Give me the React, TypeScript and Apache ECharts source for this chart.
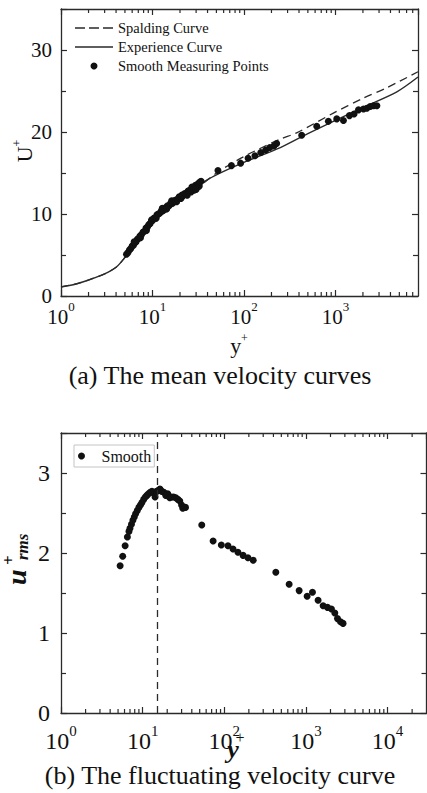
import React, { useEffect, useRef } from "react";
import * as echarts from "echarts";

const FONT = "Liberation Serif";
const INK = "#111111";
const AXIS = "#2a2a2a";

// ---------- (a) mean velocity ----------
const spaldingYPlus = [1, 1.5, 2, 3, 4, 5, 6, 7, 8, 10, 15, 20, 30, 50, 100, 245, 377, 950, 2000, 3650, 8000];
const spaldingU = [1.1, 1.5, 1.95, 2.7, 3.5, 4.7, 5.9, 6.9, 7.7, 9.0, 10.5, 11.6, 13.0, 15.0, 17.0, 19.1, 19.9, 22.3, 24.1, 25.4, 27.35];

const experienceYPlus = [1, 1.5, 2, 3, 4, 5, 6, 7, 8, 10, 15, 20, 30, 40, 60, 100, 250, 500, 950, 2000, 4700, 8000];
const experienceU = [1.1, 1.5, 1.95, 2.7, 3.5, 4.7, 5.9, 6.9, 7.7, 9.0, 10.6, 11.8, 13.3, 14.2, 15.2, 16.3, 18.1, 19.8, 21.3, 23.0, 24.9, 26.7];

const measYPlus = [
  5.2, 5.4, 5.6, 5.8, 6.0, 6.2, 6.4, 6.6, 6.8, 7.0, 7.3, 7.6, 7.9, 8.2, 8.5, 8.8, 9.1, 9.4, 9.7, 10.0,
  10.4, 10.8, 11.2, 11.6, 12.0, 12.5, 13.0, 13.5, 14.0, 14.6, 15.2, 15.8, 16.5, 17.2, 18.0, 18.8, 19.6,
  20.5, 21.5, 22.5, 23.5, 24.5, 25.5, 26.5, 27.5, 28.5, 29.5, 30.5, 31.5, 32.5, 34,
  6.3, 7.4, 8.6, 9.8, 11.0, 12.8, 14.3, 16.2, 18.4, 21.0, 24.0, 27.0, 30.0, 33.0,
  52, 73, 92, 111, 132, 153, 173, 192, 213, 228, 428, 625, 838, 1035, 1225, 1425, 1600, 1790, 2030, 2210, 2400, 2610, 2840,
];
const measU = [
  5.1, 5.3, 5.6, 5.8, 6.1, 6.2, 6.5, 6.6, 6.9, 7.0, 7.3, 7.5, 7.8, 7.9, 8.3, 8.4, 8.7, 8.8, 9.1, 9.2,
  9.5, 9.5, 9.9, 10.0, 10.1, 10.4, 10.4, 10.7, 10.8, 11.0, 11.0, 11.3, 11.3, 11.6, 11.7, 11.8, 12.1,
  11.9, 12.2, 12.5, 12.4, 12.8, 12.9, 12.7, 13.2, 12.9, 13.5, 13.2, 13.7, 13.4, 14.0,
  6.6, 7.1, 8.0, 9.3, 9.5, 10.7, 10.6, 11.6, 11.5, 12.3, 12.3, 13.3, 13.0, 13.9,
  15.3, 15.9, 16.2, 16.8, 17.1, 17.5, 17.8, 18.1, 18.3, 18.6, 19.6, 20.7, 21.3, 21.6, 21.4, 22.0, 22.2, 22.7, 22.8, 22.9, 23.1, 23.2, 23.2,
];

// ---------- (b) fluctuating velocity ----------
const rmsYPlus = [
  5.3, 5.7, 6.1, 6.5, 6.8, 7.0, 7.3, 7.6, 7.9, 8.2, 8.6, 9.0, 9.4, 9.8, 10.3, 10.8, 11.3, 11.8, 12.4, 13.0,
  13.6, 14.2, 14.8, 15.5, 16.3, 17.2, 18.2, 19.2, 20.3, 21.5, 22.6, 24.0, 25.5, 27.0, 28.5, 30, 31, 33.5,
  53, 73, 92, 111, 128, 147, 170, 195, 226, 428, 623, 826, 1035, 1203, 1410, 1626, 1837, 2056, 2260, 2437, 2654, 2850,
];
const rmsU = [
  1.84, 1.96, 2.09, 2.2, 2.27, 2.31, 2.36, 2.41, 2.45, 2.49, 2.53, 2.57, 2.6, 2.63, 2.67, 2.7, 2.72, 2.74, 2.76, 2.77,
  2.75, 2.7, 2.77, 2.78, 2.8, 2.77, 2.76, 2.72, 2.74, 2.69, 2.7, 2.7, 2.69, 2.67, 2.65, 2.6, 2.56, 2.57,
  2.35, 2.15, 2.1, 2.09, 2.05, 2.01, 1.97, 1.94, 1.91, 1.76, 1.61, 1.53, 1.46, 1.51, 1.41, 1.34, 1.32, 1.3, 1.25, 1.18, 1.14, 1.12,
];
const peakYPlus = 15.2;

// axis ranges
const aXMax = 8000;
const aYMax = 35;
const bXMax = 30000;
const bYMax = 3.5;

// legend icons (line samples)
const DASH_ICON = "path://M0,0h10v1.4h-10zM14,0h10v1.4h-10zM28,0h10v1.4h-10z";
const SOLID_ICON = "path://M0,0h38v1.4h-38z";

function minorLogTicks(maxV: number): number[] {
  const out: number[] = [];
  for (let d = 1; d <= maxV; d *= 10) {
    for (let k = 2; k <= 9; k++) {
      const v = k * d;
      if (v < maxV) out.push(v);
    }
  }
  return out;
}

function zip(xs: number[], ys: number[]) {
  return xs.map((x, i) => [x, ys[i]]);
}

function logXAxis(gridIndex: number, position: string, max: number, labelSize: number, margin: number, show: boolean) {
  return {
    type: "log",
    logBase: 10,
    gridIndex,
    position,
    min: 1,
    max,
    axisLine: { show: true, onZero: false, lineStyle: { color: AXIS, width: 1.3 } },
    axisTick: { show: true, inside: true, length: 6, lineStyle: { color: AXIS, width: 1.2 } },
    minorTick: { show: false },
    splitLine: { show: false },
    axisLabel: show
      ? {
          show: true,
          margin,
          showMaxLabel: false,
          formatter: (v: number) => `{b|10}{s|${Math.round(Math.log10(v))}}`,
          rich: {
            b: { fontSize: labelSize, fontFamily: FONT, color: INK, lineHeight: labelSize + 6, verticalAlign: "bottom" },
            s: { fontSize: Math.round(labelSize * 0.62), fontFamily: FONT, color: INK, lineHeight: labelSize * 0.62, verticalAlign: "top" },
          },
        }
      : { show: false },
  };
}

function valYAxis(gridIndex: number, position: string, max: number, interval: number, labelSize: number, margin: number, show: boolean) {
  return {
    type: "value",
    gridIndex,
    position,
    min: 0,
    max,
    interval,
    axisLine: { show: true, onZero: false, lineStyle: { color: AXIS, width: 1.3 } },
    axisTick: { show: true, inside: true, length: 6, lineStyle: { color: AXIS, width: 1.2 } },
    minorTick: { show: true, splitNumber: 2, length: 5, lineStyle: { color: AXIS, width: 1.2 } },
    splitLine: { show: false },
    minorSplitLine: { show: false },
    axisLabel: show
      ? { show: true, margin, showMaxLabel: false, fontSize: labelSize, fontFamily: FONT, color: INK }
      : { show: false },
  };
}

function tickSeries(xi: number, yi: number, values: number[], yv: number, up: boolean) {
  return {
    type: "scatter",
    xAxisIndex: xi,
    yAxisIndex: yi,
    data: values.map((v) => [v, yv]),
    symbol: "rect",
    symbolSize: [1.2, 4],
    symbolOffset: [0, up ? -2 : 2],
    itemStyle: { color: AXIS, opacity: 1 },
    silent: true,
    clip: false,
    z: 6,
  };
}

export default function App() {
  const ref = useRef<HTMLDivElement>(null);

  useEffect(() => {
    if (!ref.current) return;
    const chart = echarts.init(ref.current, undefined, { renderer: "svg" });
    const minorA = minorLogTicks(aXMax);
    const minorB = minorLogTicks(bXMax);

    const option: any = {
      animation: false,
      backgroundColor: "#ffffff",
      textStyle: { fontFamily: FONT },
      grid: [
        { left: 61, top: 9, width: 357, height: 287, outerBoundsMode: "none", containLabel: false },
        { left: 61, top: 433, width: 365.5, height: 280, outerBoundsMode: "none", containLabel: false },
      ],
      xAxis: [
        logXAxis(0, "bottom", aXMax, 21, 4, true),
        logXAxis(0, "top", aXMax, 21, 4, false),
        logXAxis(1, "bottom", bXMax, 24, 10, true),
        logXAxis(1, "top", bXMax, 24, 10, false),
      ],
      yAxis: [
        valYAxis(0, "left", aYMax, 10, 21, 9, true),
        valYAxis(0, "right", aYMax, 10, 21, 9, false),
        valYAxis(1, "left", bYMax, 1, 24, 11, true),
        valYAxis(1, "right", bYMax, 1, 24, 11, false),
      ],
      legend: [
        {
          data: [
            { name: "Spalding Curve", icon: DASH_ICON },
            { name: "Experience Curve", icon: SOLID_ICON },
            { name: "Smooth Measuring Points", icon: "circle" },
          ],
          orient: "vertical",
          left: 75,
          top: 20,
          itemWidth: 38,
          itemHeight: 7,
          itemGap: 3,
          padding: 0,
          selectedMode: false,
          textStyle: { fontFamily: FONT, fontSize: 14.5, color: INK, lineHeight: 16 },
        },
        {
          data: [{ name: "Smooth", icon: "circle" }],
          orient: "horizontal",
          left: 74,
          top: 445,
          itemWidth: 30,
          itemHeight: 7,
          padding: [3, 3, 3, 4],
          borderColor: "#c4c4c4",
          borderWidth: 1,
          selectedMode: false,
          textStyle: { fontFamily: FONT, fontSize: 16, color: INK, lineHeight: 15 },
        },
      ],
      series: [
        {
          name: "Spalding Curve",
          type: "line",
          xAxisIndex: 0,
          yAxisIndex: 0,
          data: zip(spaldingYPlus, spaldingU),
          symbol: "none",
          smooth: 0.3,
          lineStyle: { color: AXIS, width: 1.3, type: [8, 5] },
          itemStyle: { color: AXIS },
          z: 3,
        },
        {
          name: "Experience Curve",
          type: "line",
          xAxisIndex: 0,
          yAxisIndex: 0,
          data: zip(experienceYPlus, experienceU),
          symbol: "none",
          smooth: 0.3,
          lineStyle: { color: AXIS, width: 1.4, type: "solid" },
          itemStyle: { color: AXIS },
          z: 3,
        },
        {
          name: "Smooth Measuring Points",
          type: "scatter",
          xAxisIndex: 0,
          yAxisIndex: 0,
          data: zip(measYPlus, measU),
          symbol: "circle",
          symbolSize: 7,
          itemStyle: { color: INK, opacity: 1 },
          z: 4,
        },
        tickSeries(0, 0, minorA, 0, true),
        tickSeries(0, 0, minorA, aYMax, false),
        {
          name: "Smooth",
          type: "scatter",
          xAxisIndex: 2,
          yAxisIndex: 2,
          data: zip(rmsYPlus, rmsU),
          symbol: "circle",
          symbolSize: 7,
          itemStyle: { color: INK, opacity: 1 },
          z: 4,
          markLine: {
            silent: true,
            symbol: "none",
            label: { show: false },
            lineStyle: { color: AXIS, width: 1.3, type: [7, 5] },
            data: [{ xAxis: peakYPlus }],
          },
        },
        tickSeries(2, 2, minorB, 0, true),
        tickSeries(2, 2, minorB, bYMax, false),
      ],
      graphic: [
        {
          type: "text",
          x: 23,
          y: 151,
          rotation: Math.PI / 2,
          style: {
            text: "{b|U}{s|+}",
            align: "center",
            verticalAlign: "middle",
            rich: {
              b: { fontSize: 22, fontFamily: FONT, fill: INK, lineHeight: 24, verticalAlign: "bottom" },
              s: { fontSize: 12, fontFamily: FONT, fill: INK, lineHeight: 12, verticalAlign: "top" },
            },
          },
        },
        {
          type: "text",
          x: 239,
          y: 344,
          style: {
            text: "{b|y}{s|+}",
            align: "center",
            verticalAlign: "middle",
            rich: {
              b: { fontSize: 22, fontFamily: FONT, fill: INK, lineHeight: 24, verticalAlign: "bottom" },
              s: { fontSize: 12, fontFamily: FONT, fill: INK, lineHeight: 12, verticalAlign: "top" },
            },
          },
        },
        {
          type: "text",
          x: 220,
          y: 375,
          style: { text: "(a) The mean velocity curves", fontSize: 26, fontFamily: FONT, fill: INK, align: "center", verticalAlign: "middle" },
        },
        {
          type: "group",
          x: 30,
          y: 585,
          rotation: Math.PI / 2,
          children: [
            { type: "text", x: 0, y: 0, style: { text: "u", fontSize: 28, fontWeight: "bold", fontStyle: "italic", fontFamily: FONT, fill: INK, align: "left", verticalAlign: "bottom" } },
            { type: "text", x: 20, y: -13, style: { text: "+", fontSize: 17, fontWeight: "bold", fontFamily: FONT, fill: INK, align: "left", verticalAlign: "bottom" } },
            { type: "text", x: 25, y: 1, style: { text: "rms", fontSize: 17, fontWeight: "bold", fontStyle: "italic", fontFamily: FONT, fill: INK, align: "left", verticalAlign: "bottom" } },
          ],
        },
        {
          type: "text",
          x: 233,
          y: 762,
          style: { text: "y", fontSize: 26, fontWeight: "bold", fontStyle: "italic", fontFamily: FONT, fill: INK, align: "center", verticalAlign: "bottom" },
        },
        {
          type: "text",
          x: 240,
          y: 745,
          style: { text: "+", fontSize: 16, fontFamily: FONT, fill: INK, align: "center", verticalAlign: "bottom" },
        },
        {
          type: "text",
          x: 220,
          y: 775,
          style: { text: "(b) The fluctuating velocity curve", fontSize: 26, fontFamily: FONT, fill: INK, align: "center", verticalAlign: "middle" },
        },
      ],
    };

    chart.setOption(option);
    return () => chart.dispose();
  }, []);

  return (
    <div
      ref={ref}
      style={{ position: "absolute", left: 0, top: 0, width: 427, height: 793, background: "#fff" }}
    />
  );
}
